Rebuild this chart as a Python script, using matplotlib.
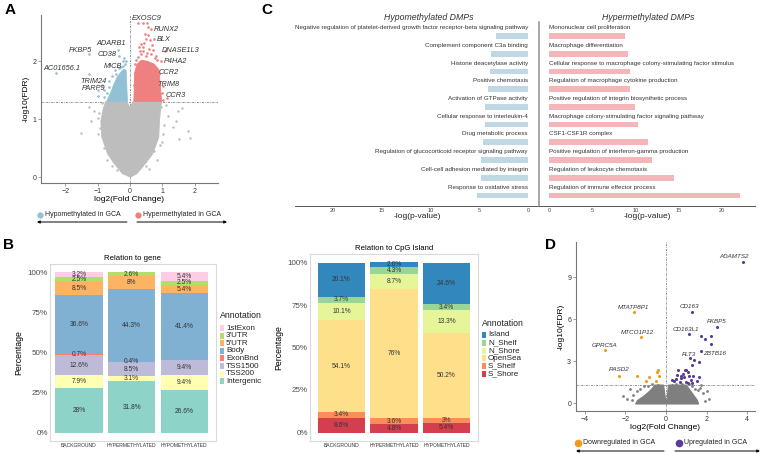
import matplotlib.pyplot as plt
from matplotlib.patches import Rectangle
import numpy as np

W, H = 765, 453
plt.rcParams['font.family'] = ['Liberation Sans', 'DejaVu Sans']

# ---------------- A: volcano of DMPs ----------------
a_grey_env_x = [0.0, -0.1, -0.23, -0.48, -0.69, -0.87, -0.9, -0.82, -0.74, -0.1, 0.0, 0.1, 0.98, 0.95, 0.91, 0.89, 0.70, 0.47, 0.21, 0.08]
a_grey_env_y = [0.0, 0.03, 0.06, 0.23, 0.40, 0.69, 0.97, 1.2, 1.31, 1.31, 1.2, 1.31, 1.31, 1.2, 0.97, 0.69, 0.40, 0.23, 0.06, 0.02]
a_grey_x = [-1.52, -1.26, -1.2, -1.1, 1.42, 1.47, 1.78, 1.84, 1.53, 1.32, 1.16, 1.6, 1.1, -0.95, -1.0, 1.05,
            -0.85, 1.0, -0.8, 0.85, -0.55, 0.6, -0.92, -0.98, 0.95, 1.02, -0.7, 0.75, -0.4, 0.5, -0.78, 0.93]
a_grey_y = [0.77, 1.21, 0.97, 1.15, 0.97, 1.15, 0.8, 0.68, 0.66, 0.86, 1.06, 1.2, 1.25, 1.1, 0.75, 0.9,
            1.28, 0.6, 0.5, 0.3, 0.2, 0.15, 0.85, 1.02, 1.22, 0.75, 0.3, 0.45, 0.12, 0.2, 1.18, 0.55]

a_hypo_env_x = [-0.72, -0.6, -0.5, -0.4, -0.3, -0.2, -0.12, -0.1, -0.08]
a_hypo_env_y = [1.31, 1.45, 1.6, 1.72, 1.8, 1.86, 1.85, 1.6, 1.31]
a_hypo_x = [-2.3, -1.26, -0.38, -0.35, -0.23, -0.21, -0.33, -1.28, -1.0, -0.85, -0.99, -0.79, -0.64, -0.55,
            -0.45, -0.2, -0.18, -0.15, -0.5, -0.7, -0.6, -0.28, -0.12, -0.8, -0.42, -0.66]
a_hypo_y = [1.8, 2.12, 2.2, 2.1, 2.0, 1.92, 1.89, 1.78, 1.5, 1.6, 1.4, 1.39, 1.66, 1.75,
            1.85, 2.05, 1.8, 1.95, 1.55, 1.45, 1.38, 1.9, 2.0, 1.5, 1.78, 1.55]

a_hyper_env_x = [0.12, 0.14, 0.22, 0.35, 0.55, 0.75, 0.9, 0.93, 0.98]
a_hyper_env_y = [1.31, 1.8, 1.95, 2.02, 2.0, 1.95, 1.85, 1.6, 1.31]
a_hyper_x = [0.26, 0.40, 0.52, 0.55, 0.65, 0.47, 0.56, 0.49, 0.73, 0.62, 0.34, 0.41, 0.58, 0.3, 0.39, 0.7,
             0.34, 0.64, 0.8, 1.09, 0.96, 0.25, 0.48, 0.85, 0.91, 1.01, 0.91, 1.13, 1.01, 0.98, 0.2, 0.15,
             0.12, 0.44, 0.68, 0.52, 0.29, 0.78]
a_hyper_y = [2.66, 2.66, 2.66, 2.6, 2.55, 2.48, 2.46, 2.38, 2.38, 2.36, 2.3, 2.25, 2.22, 2.18, 2.18, 2.2,
             2.12, 2.12, 2.1, 2.17, 2.0, 2.08, 2.1, 2.02, 1.78, 1.58, 1.52, 1.36, 1.33, 1.45, 2.02, 1.95,
             1.6, 2.32, 2.28, 2.15, 2.25, 2.05]

a_genes = ['EXOSC9', 'RUNX2', 'BLX', 'DNASE1L3', 'P4HA2', 'CCR2', 'TRIM8', 'CCR3',
           'ADARB1', 'FKBP5', 'CD38', 'MICB', 'AC01656.1', 'TRIM24', 'PARP9']
a_gene_tx = [0.52, 1.11, 1.04, 1.55, 1.4, 1.21, 1.19, 1.42, -0.57, -1.53, -0.7, -0.52, -2.09, -1.12, -1.12]
a_gene_ty = [2.74, 2.55, 2.38, 2.18, 1.99, 1.8, 1.6, 1.41, 2.31, 2.19, 2.12, 1.91, 1.88, 1.66, 1.53]

# ---------------- B: stacked annotation bars ----------------
groups = ['BACKGROUND', 'HYPERMETHYLATED', 'HYPOMETHYLATED']
gene_annot = ['Intergenic', 'TSS200', 'TSS1500', 'ExonBnd', 'Body', "5'UTR", "3'UTR", '1stExon']
gene_pct = {
    'BACKGROUND':      [28, 7.9, 12.6, 0.7, 36.6, 8.5, 2.5, 3.2],
    'HYPERMETHYLATED': [31.8, 3.1, 8.5, 0.4, 44.3, 8, 2.6, 0],
    'HYPOMETHYLATED':  [26.6, 9.4, 9.4, 0, 41.4, 5.4, 2.5, 5.4],
}
cpg_annot = ['S_Shore', 'S_Shelf', 'OpenSea', 'N_Shore', 'N_Shelf', 'Island']
cpg_pct = {
    'BACKGROUND':      [8.6, 3.4, 54.1, 10.1, 3.7, 20.1],
    'HYPERMETHYLATED': [4.8, 3.6, 76, 8.7, 4.3, 2.6],
    'HYPOMETHYLATED':  [5.4, 3, 50.2, 13.3, 3.4, 24.6],
}

# ---------------- C: GO enrichment ----------------
hypo_terms = ['Negative regulation of platelet-derived growth factor receptor-beta signaling pathway',
              'Complement component C3a binding', 'Histone deacetylase activity', 'Positive chemotaxis',
              'Activation of GTPase activity', 'Cellular response to interleukin-4', 'Drug metabolic process',
              'Regulation of glucocorticoid receptor signaling pathway',
              'Cell-cell adhesion mediated by integrin', 'Response to oxidative stress']
hypo_logp = [3.3, 3.8, 3.9, 4.1, 4.4, 4.4, 4.6, 4.8, 4.8, 5.2]
hyper_terms = ['Mononuclear cell proliferation', 'Macrophage differentiation',
               'Cellular response to macrophage colony-stimulating factor stimulus',
               'Regulation of macrophage cytokine production',
               'Positive regulation of integrin biosynthetic process',
               'Macrophage colony-stimulating factor signaling pathway', 'CSF1-CSF1R complex',
               'Positive regulation of interferon-gamma production', 'Regulation of leukocyte chemotaxis',
               'Regulation of immune effector process']
hyper_logp = [8.8, 9.1, 9.3, 9.3, 9.9, 10.3, 11.4, 11.9, 14.4, 22.1]

# ---------------- D: volcano of DEGs ----------------
d_grey_env_x = [-1.5, -1.4, -1.1, -0.85, -0.65, -0.55, -0.12, -0.02, 0.05, 0.12, 1.0, 1.2, 1.4, 1.55, 1.6]
d_grey_env_y = [-0.05, 0.2, 0.5, 0.8, 1.1, 1.3, 1.3, 0.25, 0.25, 1.3, 1.3, 0.9, 0.5, 0.2, -0.05]
d_grey_x = [-1.75, -1.6, -1.9, 1.66, 1.8, 2.1, 1.7, -1.3, -1.1, 1.3, 2.0, -2.1, -0.9, 0.5, -0.7, 1.45,
            -1.45, 1.15, 0.8, -0.4, 0.3, 1.9, -1.65, 1.55]
d_grey_y = [1.0, 0.6, 0.3, 1.1, 0.7, 0.3, 1.3, 1.0, 1.2, 1.2, 0.9, 0.5, 1.25, 1.35, 1.35, 1.05,
            0.85, 1.38, 1.38, 1.3, 1.3, 0.15, 0.2, 0.95]
d_up_x = [3.8, 1.28, 2.5, 1.14, 1.71, 1.93, 2.23, 2.23, 1.74, 1.63, 1.38, 1.3, 1.17, 1.0, 0.93, 1.09, 0.85,
          0.6, 0.55, 0.72, 0.88, 1.14, 1.22, 1.33, 0.47, 0.28, 0.39, 0.68, 0.98, 1.53, 1.63, 1.3, 1.06, 0.76]
d_up_y = [10.07, 6.5, 5.44, 4.94, 4.77, 4.58, 4.82, 4.22, 3.7, 2.94, 3.1, 2.74, 3.22, 2.39, 2.34, 2.22, 2.1,
          2.39, 2.03, 1.79, 1.86, 1.91, 1.67, 1.91, 1.72, 1.67, 1.62, 1.55, 1.55, 1.62, 1.86, 1.48, 1.43, 1.91]
d_down_x = [-1.56, -1.22, -3.02, -2.33, -1.43, -0.86, -0.98, -0.5, -0.37, -0.42, -0.33]
d_down_y = [6.49, 4.7, 3.82, 1.98, 1.98, 1.86, 1.62, 1.62, 2.34, 2.22, 1.96]

d_genes = ['ADAMTS2', 'CD163', 'FKBP5', 'CD163L1', 'ZBTB16', 'FLT3', 'MTATP8P1', 'MTCO1P12', 'GPRC5A', 'RASD2']
d_gene_tx = [3.37, 1.17, 2.5, 1.0, 2.39, 1.14, -1.59, -1.4, -3.02, -2.29]
d_gene_ty = [10.45, 6.87, 5.85, 5.25, 3.58, 3.46, 6.8, 5.08, 4.13, 2.43]

# ---------------- styles ----------------
c_blue, c_red, c_grey_a = '#92C0D4', '#EF8080', '#BDBDBD'
c_hypo_bar, c_hyper_bar = '#BFD8E3', '#F5B6B9'
c_grey_d, c_up, c_down = '#7F7F7F', '#5A3D9A', '#F39A1E'
gene_colors = {'Intergenic': '#8DD3C7', 'TSS200': '#FFFFB3', 'TSS1500': '#BEBADA', 'ExonBnd': '#FB8072',
               'Body': '#80B1D3', "5'UTR": '#FDB462', "3'UTR": '#B3DE69', '1stExon': '#FCCDE5'}
cpg_colors = {'S_Shore': '#D53E4F', 'S_Shelf': '#FC8D59', 'OpenSea': '#FEE08B', 'N_Shore': '#E6F598',
              'N_Shelf': '#99D594', 'Island': '#3288BD'}

fig = plt.figure(figsize=(W / 100, H / 100), dpi=100)


def add_ax(l, t, r, b):
    return fig.add_axes([l / W, 1 - b / H, (r - l) / W, (b - t) / H])


def volcano_style(ax):
    for s in ['top', 'right']:
        ax.spines[s].set_visible(False)
    for s in ['left', 'bottom']:
        ax.spines[s].set_color('#777777')
        ax.spines[s].set_linewidth(0.8)
    ax.tick_params(length=2, width=0.5, color='#777777', labelsize=5, pad=1.5, labelcolor='#333333')
    ax.axvline(0, color='#666666', lw=0.5, ls=(0, (3, 1.5, 1, 1.5)), zorder=0)
    ax.axhline(1.3, color='#666666', lw=0.5, ls=(0, (3, 1.5, 1, 1.5)), zorder=0)


# ---- A ----
axA = add_ax(41, 15, 218, 183)
axA.fill(a_grey_env_x, a_grey_env_y, color=c_grey_a, lw=0.6, ec=c_grey_a)
axA.scatter(a_grey_x, a_grey_y, s=3, c=c_grey_a, lw=0)
axA.fill(a_hypo_env_x, a_hypo_env_y, color=c_blue, lw=0.6, ec=c_blue)
axA.scatter(a_hypo_x, a_hypo_y, s=3.5, c=c_blue, lw=0)
axA.fill(a_hyper_env_x, a_hyper_env_y, color=c_red, lw=0.6, ec=c_red)
axA.scatter(a_hyper_x, a_hyper_y, s=3.5, c=c_red, lw=0)
for g, x, y in zip(a_genes, a_gene_tx, a_gene_ty):
    axA.text(x, y, g, fontsize=5.3, style='italic', color='#333333', ha='center', va='center')
axA.set_xlim(-2.75, 2.72)
axA.set_ylim(-0.1, 2.8)
axA.set_xticks([-2, -1, 0, 1, 2])
axA.set_yticks([0, 1, 2])
volcano_style(axA)
axA.set_xlabel('log2(Fold Change)', fontsize=6, labelpad=1)
axA.set_ylabel('-log10(FDR)', fontsize=6, labelpad=2)

# ---- B ----
def stacked(ax, pct, annot, colors):
    for gi, g in enumerate(groups):
        vals = np.array(pct[g], dtype=float)
        norm = vals / vals.sum() * 100
        bottom = 0
        for a, v, nv in zip(annot, vals, norm):
            if v > 0:
                ax.bar(gi, nv, bottom=bottom, width=0.9, color=colors[a], lw=0)
                ax.text(gi, bottom + nv / 2, f'{v:g}%', ha='center', va='center', fontsize=4.8, color='#333333')
            bottom += nv
    ax.set_ylim(-5, 105)
    ax.set_xticks(range(len(groups)))
    ax.set_xticklabels(groups, fontsize=3.6, color='#333333')
    ax.set_yticks([0, 25, 50, 75, 100])
    ax.set_yticklabels(['0%', '25%', '50%', '75%', '100%'], fontsize=5.8, color='#4D4D4D')
    ax.tick_params(length=0, pad=1.5)
    for s in ax.spines.values():
        s.set_color('#D9D9D9')
        s.set_linewidth(0.8)
    ax.set_ylabel('Percentage', fontsize=6.3, labelpad=3)


axB1 = add_ax(50, 264, 216, 441)
stacked(axB1, gene_pct, gene_annot, gene_colors)
axB1.set_xlim(-0.55, 2.6)
axB1.set_title('Relation to gene', fontsize=5.6, pad=3)

axB2 = add_ax(310, 254, 478, 441)
stacked(axB2, cpg_pct, cpg_annot, cpg_colors)
axB2.set_xlim(-0.6, 2.6)
axB2.set_title('Relation to CpG Island', fontsize=5.6, pad=3)

# ---- C ----
rows = np.arange(len(hypo_terms))
axCl = add_ax(295, 22, 539, 206)
axCl.barh(rows, hypo_logp, height=0.32, color=c_hypo_bar, lw=0)
for i, t in enumerate(hypo_terms):
    axCl.text(0, i - 0.47, t, ha='right', va='center', fontsize=4.5, color='#333333')
axCl.set_xlim(23.9, -1.13)
axCl.set_ylim(9.6, -0.8)
axCl.text(10.2, -1.05, 'Hypomethylated DMPs', fontsize=6.3, style='italic', ha='center', va='center',
          color='#333333')
axCl.set_xticks([20, 15, 10, 5, 0])

axCr = add_ax(539, 22, 755, 206)
axCr.barh(rows, hyper_logp, height=0.32, color=c_hyper_bar, lw=0)
for i, t in enumerate(hyper_terms):
    axCr.text(0, i - 0.47, t, ha='left', va='center', fontsize=4.5, color='#333333')
axCr.set_xlim(-1.16, 23.8)
axCr.set_ylim(9.6, -0.8)
axCr.text(11.4, -1.05, 'Hypermethylated DMPs', fontsize=6.3, style='italic', ha='center', va='center',
          color='#333333')
axCr.set_xticks([0, 5, 10, 15, 20])

for ax in (axCl, axCr):
    for s in ['top', 'right', 'left']:
        ax.spines[s].set_visible(False)
    ax.spines['bottom'].set_color('#555555')
    ax.spines['bottom'].set_linewidth(0.7)
    ax.set_yticks([])
    ax.tick_params(axis='x', length=0, labelsize=4, pad=1.5, labelcolor='#444444')
    ax.set_xlabel('-log(p-value)', fontsize=6, labelpad=0, color='#222222')
axCr.spines['left'].set_visible(True)
axCr.spines['left'].set_color('#9A9A9A')
axCr.spines['left'].set_linewidth(1.2)

# ---- D ----
axD = add_ax(576, 242, 755, 411)
axD.fill(d_grey_env_x, d_grey_env_y, color=c_grey_d, lw=0.8, ec=c_grey_d)
axD.scatter(d_grey_x, d_grey_y, s=4, c=c_grey_d, lw=0)
axD.scatter(d_up_x, d_up_y, s=5, c=c_up, lw=0)
axD.scatter(d_down_x, d_down_y, s=5, c=c_down, lw=0)
for g, x, y in zip(d_genes, d_gene_tx, d_gene_ty):
    axD.text(x, y, g, fontsize=4.5, style='italic', color='#333333', ha='center', va='center')
axD.set_xlim(-4.43, 4.38)
axD.set_ylim(-0.55, 11.5)
axD.set_xticks([-4, -2, 0, 2, 4])
axD.set_yticks([0, 3, 6, 9])
volcano_style(axD)
axD.set_xlabel('log2(Fold Change)', fontsize=6, labelpad=1)
axD.set_ylabel('-log10(FDR)', fontsize=6, labelpad=2)

# ---- overlay: panel letters and legends (pixel coordinates) ----
ov = fig.add_axes([0, 0, 1, 1], zorder=10)
ov.set_xlim(0, W)
ov.set_ylim(H, 0)
ov.axis('off')
ov.patch.set_alpha(0)

for letter, x, y in [('A', 10, 10), ('B', 9, 245), ('C', 267, 10), ('D', 551, 245)]:
    ov.text(x, y, letter, fontsize=11, fontweight='bold', ha='center', va='center')


def dot_legend(y_dot, y_arrow, items, arrows):
    for x, col, lab, ms in items:
        ov.plot(x, y_dot, 'o', color=col, ms=ms, mew=0)
        ov.text(x + 5, y_dot, lab, fontsize=5, va='center', color='#222222')
    for x0, x1 in arrows:
        ov.annotate('', xy=(x1, y_arrow), xytext=(x0, y_arrow),
                    arrowprops=dict(arrowstyle='-|>', lw=0.7, color='black', mutation_scale=4,
                                    shrinkA=0, shrinkB=0))


dot_legend(215, 222, [(40, c_blue, 'Hypomethylated in GCA', 4.5), (138, c_red, 'Hypermethylated in GCA', 4.5)],
           [(127, 37), (137, 227)])
dot_legend(443, 451, [(578, c_down, 'Downregulated in GCA', 5.5), (679, c_up, 'Upregulated in GCA', 5.5)],
           [(664, 576), (675, 760)])


def box_legend(x, y, labels, colors, step):
    ov.text(x, y, 'Annotation', fontsize=6.3, va='center', color='#222222')
    for i, lab in enumerate(labels):
        yy = y + 12 + i * step
        ov.add_patch(Rectangle((x + 0.5, yy - 3), 4, 6, color=colors[lab], lw=0))
        ov.text(x + 6, yy, lab, fontsize=5.8, va='center', color='#222222')


box_legend(220, 316, gene_annot[::-1], gene_colors, 7.6)
box_legend(482, 323, cpg_annot[::-1], cpg_colors, 7.8)

fig.savefig('out.png', dpi=100)
